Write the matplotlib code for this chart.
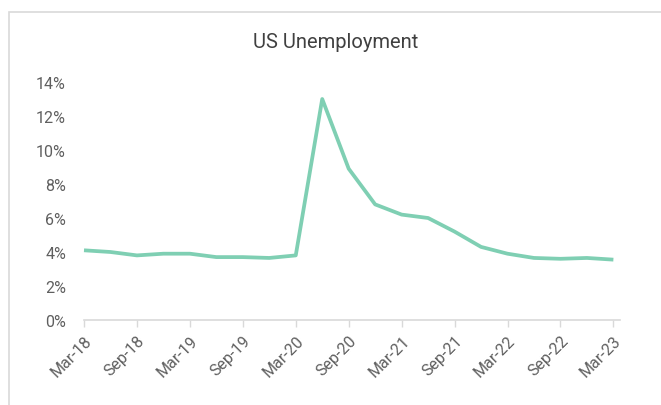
import matplotlib
matplotlib.use("Agg")
from matplotlib import pyplot as plt
from matplotlib.patches import Rectangle
from matplotlib.ticker import FuncFormatter

# quarterly US unemployment rate, Mar-18 .. Mar-23
quarters = ["Mar-18", "Jun-18", "Sep-18", "Dec-18", "Mar-19", "Jun-19", "Sep-19",
            "Dec-19", "Mar-20", "Jun-20", "Sep-20", "Dec-20", "Mar-21", "Jun-21",
            "Sep-21", "Dec-21", "Mar-22", "Jun-22", "Sep-22", "Dec-22", "Mar-23"]
rate = [4.1, 4.0, 3.8, 3.9, 3.9, 3.7, 3.7, 3.65, 3.8, 13.0, 8.9, 6.8, 6.2, 6.0,
        5.2, 4.3, 3.9, 3.65, 3.6, 3.65, 3.55]
y_ticks = [0, 2, 4, 6, 8, 10, 12, 14]

plt.rcParams['font.family'] = ['Roboto', 'DejaVu Sans']

fig = plt.figure(figsize=(6.61, 4.06), dpi=100)
W, H = 661, 406
ax = fig.add_axes([84 / W, 1 - 321 / H, (620 - 84) / W, (321 - 83) / H])

x = list(range(len(quarters)))
ax.plot(x, rate, color='#7fcfb3', linewidth=2.7, solid_joinstyle='round',
        solid_capstyle='butt', clip_on=False)

ax.set_xlim(0, 20.25)
ax.set_ylim(0, 14)
ax.set_yticks(y_ticks)
ax.yaxis.set_major_formatter(FuncFormatter(lambda v, p: '%d%%' % v))
ax.set_xticks(x[::2])
ax.set_xticklabels(quarters[::2], rotation=45, ha='right', rotation_mode='anchor')

for s in ['top', 'right', 'left']:
    ax.spines[s].set_visible(False)
ax.spines['bottom'].set_color('#d9d9d9')
ax.spines['bottom'].set_linewidth(1.2)
ax.tick_params(axis='y', length=0, pad=13, labelsize=11.5, labelcolor='#5f5f5f')
ax.tick_params(axis='x', length=5, width=1, color='#d9d9d9', pad=4,
               labelsize=11.5, labelcolor='#5f5f5f')

fig.text(336 / W, 1 - 42 / H, "US Unemployment", ha='center', va='center',
         fontsize=14.5, color='#404040')

# chart frame
fig.patches.append(Rectangle((9 / W, -0.1), 1.2, 1.1 - 13 / H, transform=fig.transFigure,
                             fill=False, edgecolor='#d9d9d9', linewidth=1.2))

fig.savefig('out.png', dpi=100)
